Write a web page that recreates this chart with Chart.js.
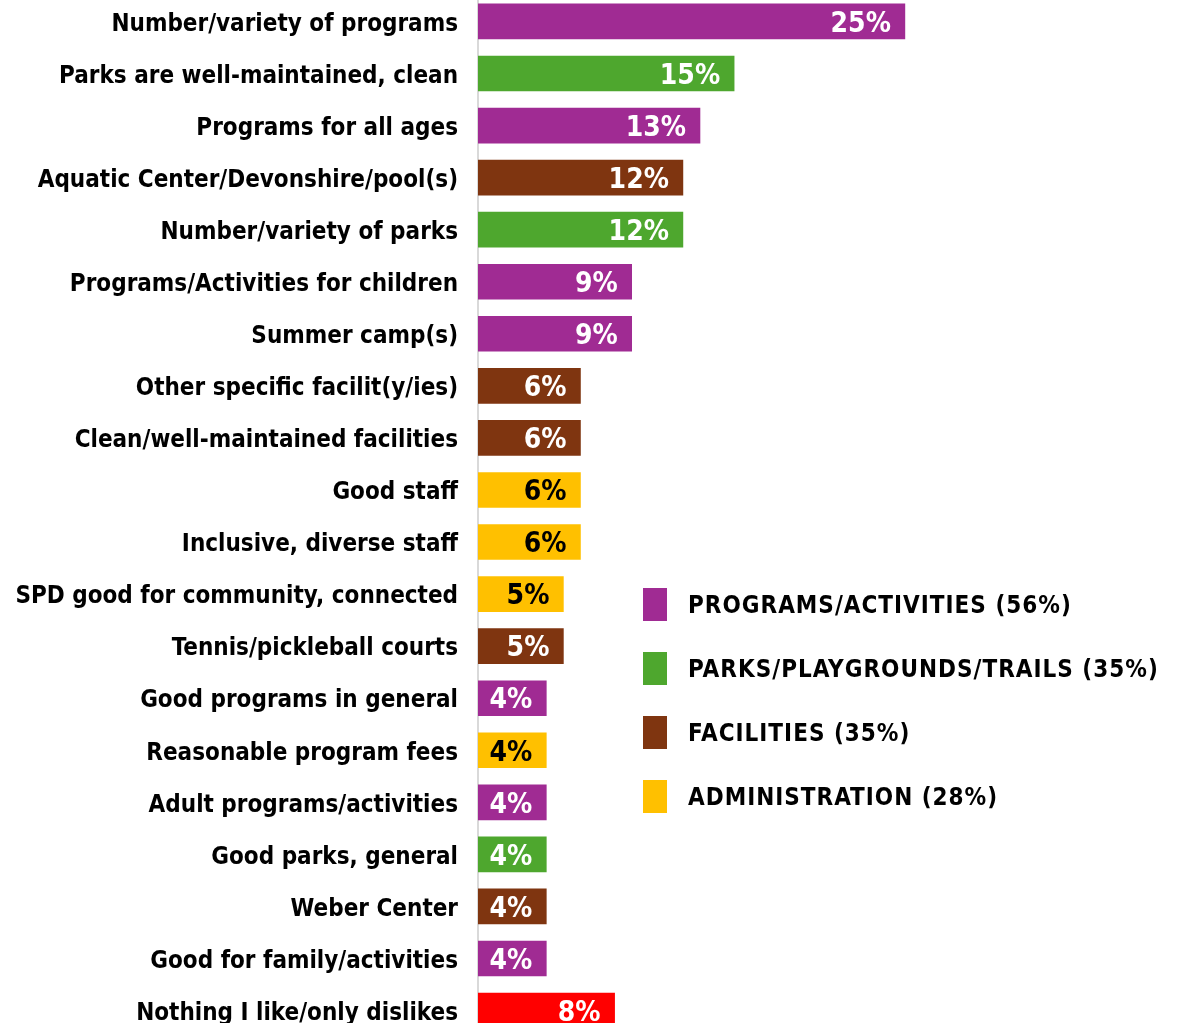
<!DOCTYPE html>
<html>
<head>
<meta charset="utf-8">
<script src="https://cdn.jsdelivr.net/npm/chart.js@4"></script>
<style>
    html, body { margin: 0; padding: 0; background: #fff; overflow: hidden; }
    body { width: 1186px; height: 1023px; position: relative; }
    #wrap { position: absolute; left: 0; top: -39px; width: 1186px; height: 1110px; }
    #legend { position: absolute; left: 643px; top: 588px; font-family: "DejaVu Sans Condensed", "DejaVu Sans", sans-serif; font-weight: bold; font-size: 24px; letter-spacing: 1px; color: #000; }
    .item { height: 64px; display: flex; align-items: flex-start; }
    .box { width: 24px; height: 33px; margin-right: 21px; }
    .txt { line-height: 35px; }
</style>
</head>
<body>
<div id="wrap"><canvas id="chart"></canvas></div>
<div id="legend"></div>
<script>
const categories = [
    "Number/variety of programs",
    "Parks are well-maintained, clean",
    "Programs for all ages",
    "Aquatic Center/Devonshire/pool(s)",
    "Number/variety of parks",
    "Programs/Activities for children",
    "Summer camp(s)",
    "Other specific facilit(y/ies)",
    "Clean/well-maintained facilities",
    "Good staff",
    "Inclusive, diverse staff",
    "SPD good for community, connected",
    "Tennis/pickleball courts",
    "Good programs in general",
    "Reasonable program fees",
    "Adult programs/activities",
    "Good parks, general",
    "Weber Center",
    "Good for family/activities",
    "Nothing I like/only dislikes"
];
const values = [25, 15, 13, 12, 12, 9, 9, 6, 6, 6, 6, 5, 5, 4, 4, 4, 4, 4, 4, 8];
const groups = ["prog", "park", "prog", "fac", "park", "prog", "prog", "fac", "fac", "admin", "admin", "admin", "fac", "prog", "admin", "prog", "park", "fac", "prog", "none"];

const legendNames = ["PROGRAMS/ACTIVITIES (56%)", "PARKS/PLAYGROUNDS/TRAILS (35%)", "FACILITIES (35%)", "ADMINISTRATION (28%)"];
const legendKeys = ["prog", "park", "fac", "admin"];

const colors = { prog: "#A02B93", park: "#4EA72E", fac: "#7F3510", admin: "#FFC000", none: "#FF0000" };
const fontFamily = '"DejaVu Sans Condensed", "DejaVu Sans", sans-serif';

const valueLabels = {
    id: "valueLabels",
    afterDatasetsDraw(chart) {
        const ctx = chart.ctx;
        const meta = chart.getDatasetMeta(0);
        ctx.save();
        ctx.font = "bold 28px " + fontFamily;
        ctx.textAlign = "right";
        ctx.textBaseline = "middle";
        meta.data.forEach((bar, i) => {
            ctx.fillStyle = groups[i] === "admin" ? "#000" : "#fff";
            ctx.fillText(values[i] + "%", bar.x - 14, bar.y + 3);
        });
        ctx.restore();
    }
};

new Chart(document.getElementById("chart"), {
    type: "bar",
    data: {
        labels: categories,
        datasets: [{
            data: values,
            backgroundColor: groups.map(g => colors[g]),
            barThickness: 35
        }]
    },
    options: {
        indexAxis: "y",
        responsive: true,
        maintainAspectRatio: false,
        animation: false,
        layout: { padding: { left: 0, right: 25, top: 0, bottom: 0 } },
        plugins: { legend: { display: false }, tooltip: { enabled: false } },
        scales: {
            x: { display: false, min: 0, max: 40 },
            y: {
                afterFit(scale) { scale.width = 478; },
                grid: { display: false, drawTicks: false },
                border: { display: true, color: "#d9d9d9", width: 2 },
                ticks: {
                    padding: 20,
                    labelOffset: 3,
                    color: "#000",
                    font: { family: fontFamily, weight: "bold", size: 24 }
                }
            }
        }
    },
    plugins: [valueLabels]
});

const legend = document.getElementById("legend");
legendKeys.forEach((k, i) => {
    const item = document.createElement("div");
    item.className = "item";
    item.innerHTML = `<div class="box" style="background:${colors[k]}"></div><div class="txt">${legendNames[i]}</div>`;
    legend.append(item);
});
</script>
</body>
</html>
